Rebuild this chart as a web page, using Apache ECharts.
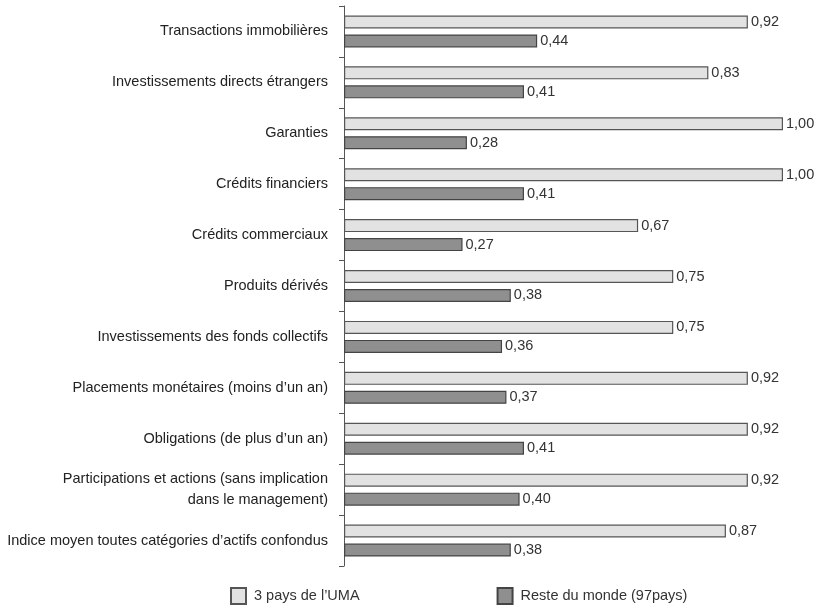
<!DOCTYPE html>
<html>
<head>
<meta charset="utf-8">
<script src="https://cdn.jsdelivr.net/npm/echarts@6/dist/echarts.min.js"></script>
<style>
  html, body { margin: 0; padding: 0; background: #fff; }
  #chart { width: 818px; height: 611px; }
</style>
</head>
<body>
<div id="chart"></div>
<script>
// Catégories d'actifs (de haut en bas)
const categories = [
  "Transactions immobilières",
  "Investissements directs étrangers",
  "Garanties",
  "Crédits financiers",
  "Crédits commerciaux",
  "Produits dérivés",
  "Investissements des fonds collectifs",
  "Placements monétaires (moins d’un an)",
  "Obligations (de plus d’un an)",
  "Participations et actions (sans implication\ndans le management)",
  "Indice moyen toutes catégories d’actifs confondus"
];

// Indices par groupe de pays
const umaValues   = [0.92, 0.83, 1.00, 1.00, 0.67, 0.75, 0.75, 0.92, 0.92, 0.92, 0.87];
const worldValues = [0.44, 0.41, 0.28, 0.41, 0.27, 0.38, 0.36, 0.37, 0.41, 0.40, 0.38];

const seriesNames = ["3 pays de l’UMA", "Reste du monde (97pays)"];

const FONT = "'Liberation Sans', Arial, sans-serif";
const fmt = v => v.toFixed(2).replace(".", ",");

const chart = echarts.init(document.getElementById("chart"));

const valueLabel = {
  show: true,
  position: "right",
  distance: 3,
  color: "#333",
  fontFamily: FONT,
  fontSize: 14.5,
  formatter: p => fmt(p.value)
};

chart.setOption({
  animation: false,
  backgroundColor: "#fff",
  grid: { left: 344, right: 35, top: 6, bottom: 45, containLabel: false, outerBoundsMode: "none" },
  xAxis: {
    type: "value",
    min: 0,
    max: 1,
    show: false
  },
  yAxis: {
    type: "category",
    inverse: true,
    data: categories,
    axisLine: { show: true, lineStyle: { color: "#555", width: 1 } },
    axisTick: { show: true, inside: false, length: 5, lineStyle: { color: "#555" } },
    axisLabel: {
      margin: 16,
      color: "#222",
      fontFamily: FONT,
      fontSize: 14.5,
      lineHeight: 21,
      align: "right"
    }
  },
  legend: {
    top: 582,
    left: 225,
    itemGap: 137,
    itemWidth: 15,
    itemHeight: 16,
    icon: "rect",
    textStyle: { color: "#333", fontFamily: FONT, fontSize: 14.5, padding: [0, 0, 0, 3] },
    data: seriesNames
  },
  series: [
    {
      name: seriesNames[0],
      type: "bar",
      data: umaValues,
      barWidth: 13,
      barGap: "46%",
      itemStyle: { color: "#e2e2e2", borderColor: "#555", borderWidth: 1.2 },
      label: valueLabel
    },
    {
      name: seriesNames[1],
      type: "bar",
      data: worldValues,
      barWidth: 13,
      itemStyle: { color: "#8f8f8f", borderColor: "#444", borderWidth: 1.2 },
      label: valueLabel
    }
  ]
});
</script>
</body>
</html>
